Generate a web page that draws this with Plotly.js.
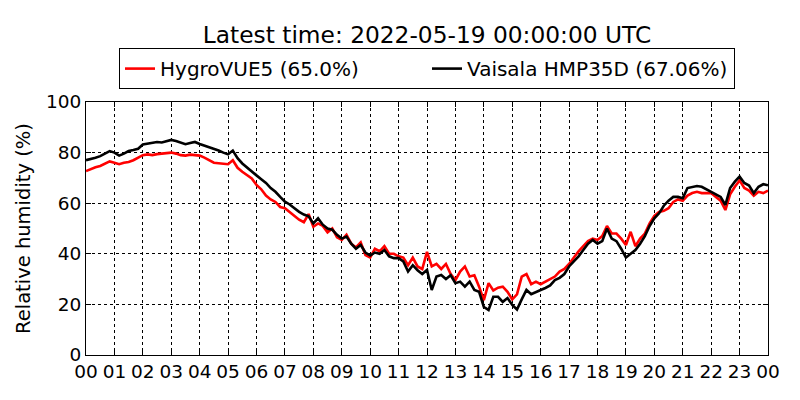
<!DOCTYPE html>
<html>
<head>
<meta charset="utf-8">
<script src="https://cdn.plot.ly/plotly-3.0.1.min.js"></script>
<style>
  html, body { margin: 0; padding: 0; background: #fff; }
  #chart { width: 800px; height: 400px; }
</style>
</head>
<body>
<div id="chart"></div>
<script>
/* =========================
   Data (10-minute samples, 2022-05-18 00:00 .. 2022-05-19 00:00 UTC)
========================= */
const DAY = "2022-05-18";
const END = "2022-05-19 00:00";
const STEP_MIN = 10;

// HygroVUE5 relative humidity (%)
const hygroVUE5 = [
  72.7, 73.5, 74.2, 74.7, 75.5, 76.5,
  76.0, 75.4, 76.0, 76.3, 77.0, 78.0,
  79.0, 79.3, 79.0, 79.4, 79.6, 79.8,
  80.0, 79.6, 79.0, 78.8, 79.2, 79.0,
  78.8, 78.0, 77.0, 76.0, 75.8, 75.6,
  75.4, 77.0, 74.0, 72.4, 71.0, 69.8,
  67.2, 65.5, 63.0, 61.5, 60.5, 58.5,
  58.0, 56.5, 55.0, 53.5, 52.5, 55.7,
  50.7, 52.0, 51.0, 48.5, 50.0, 46.5,
  45.5, 47.5, 44.0, 42.5, 44.5, 39.5,
  38.5, 42.0, 41.0, 43.0, 40.0, 40.0,
  39.0, 38.5, 35.5, 38.5, 35.0, 34.0,
  40.8, 35.0, 36.0, 34.0, 36.0, 32.0,
  29.6, 33.0, 35.0, 31.0, 31.5, 27.0,
  21.7, 28.4, 25.5, 26.6, 27.0, 25.0,
  22.0, 24.0, 31.0, 32.0, 28.0, 29.0,
  28.0, 29.0, 30.0, 31.0, 33.0, 34.0,
  36.0, 38.5, 41.0, 43.0, 45.0, 46.0,
  45.5, 47.0, 51.0, 48.0, 48.0, 46.0,
  43.5, 48.7, 43.0, 46.0, 48.0, 52.0,
  55.0, 56.5, 57.0, 58.0, 60.5, 61.5,
  61.0, 63.0, 64.0, 64.5, 64.0, 64.0,
  64.0, 62.5, 61.0, 57.3, 63.5, 66.5,
  69.0, 66.0, 65.0, 63.0, 64.5, 64.0,
  65.0
];

// Vaisala HMP35D relative humidity (%)
const hmp35d = [
  77.0, 77.4, 78.0, 78.6, 79.5, 80.6,
  80.0, 78.8, 79.6, 80.6, 81.0, 81.5,
  83.2, 83.6, 84.0, 84.2, 84.0, 84.6,
  85.0, 84.6, 84.0, 83.3, 83.8, 84.2,
  83.4, 82.8, 82.0, 81.4, 80.8, 80.0,
  79.3, 80.8, 77.8, 75.7, 74.0, 72.4,
  71.0, 69.5, 68.0, 66.0, 64.5, 62.5,
  60.6, 59.5, 58.0, 56.6, 55.5, 54.8,
  52.0, 54.0, 51.5, 50.0, 49.5, 47.5,
  46.0, 46.8, 44.0, 42.0, 43.5, 40.5,
  39.3, 40.5, 40.0, 41.5, 39.0, 38.3,
  38.3, 37.0, 33.0, 35.5, 33.5, 32.0,
  33.6, 25.7, 31.0, 31.6, 30.0, 31.5,
  28.4, 29.0, 27.0, 29.0, 25.7, 25.0,
  19.0, 17.8, 23.0, 23.0, 21.0, 22.5,
  19.8, 18.0, 22.0, 25.7, 24.0, 25.0,
  25.7, 26.5, 27.5, 29.6, 30.5, 32.0,
  35.0, 37.0, 39.0, 41.5, 44.0, 45.5,
  44.0, 45.0, 50.0, 46.0, 45.0, 42.0,
  38.5, 40.0, 41.5, 44.0, 47.0, 51.0,
  54.0, 56.0, 59.0, 61.0, 62.5, 62.5,
  62.0, 66.0, 66.5, 66.8, 66.5, 65.5,
  64.5, 63.5, 62.5, 59.3, 66.0, 68.5,
  70.5, 68.0, 67.0, 64.0, 66.5, 67.5,
  67.06
];

const SERIES = [
  { name: "HygroVUE5 (65.0%)", y: hygroVUE5, color: "#ff0000" },
  { name: "Vaisala HMP35D (67.06%)", y: hmp35d, color: "#000000" }
];

const yTicks = [0, 20, 40, 60, 80, 100];

function timeAxis(n) {
  const out = [];
  for (let i = 0; i < n; i++) {
    const m = i * STEP_MIN;
    if (m >= 1440) { out.push(END); continue; }
    const hh = String(Math.floor(m / 60)).padStart(2, "0");
    const mm = String(m % 60).padStart(2, "0");
    out.push(DAY + " " + hh + ":" + mm);
  }
  return out;
}

/* =========================
   Plot
========================= */
const FONT = "DejaVu Sans, Verdana, sans-serif";
const times = timeAxis(hmp35d.length);

const traces = SERIES.map(s => ({
  x: times,
  y: s.y,
  name: s.name,
  type: "scatter",
  mode: "lines",
  line: { color: s.color, width: 2.6 }
}));

const axisCommon = {
  showline: true,
  linecolor: "#000",
  linewidth: 1,
  mirror: "ticks",
  ticks: "inside",
  ticklen: 5,
  tickcolor: "#000",
  showgrid: true,
  gridcolor: "#000",
  gridwidth: 1,
  griddash: "dot",
  zeroline: false,
  tickfont: { family: FONT, size: 18.5, color: "#000" }
};

const layout = {
  width: 800,
  height: 400,
  margin: { l: 86, r: 32, t: 102, b: 45 },
  paper_bgcolor: "#fff",
  plot_bgcolor: "#fff",
  font: { family: FONT, size: 18.5, color: "#000" },
  title: {
    text: "Latest time: 2022-05-19 00:00:00 UTC",
    font: { family: FONT, size: 23.3, color: "#000" },
    xref: "paper", x: 0.5, xanchor: "center",
    yref: "container", y: 0.913, yanchor: "middle"
  },
  xaxis: Object.assign({}, axisCommon, {
    type: "date",
    range: [DAY + " 00:00", END],
    tick0: DAY + " 00:00",
    dtick: 3600000,
    tickformat: "%H"
  }),
  yaxis: Object.assign({}, axisCommon, {
    range: [0, 100],
    tickvals: yTicks,
    title: { text: "Relative humidity (%)", font: { family: FONT, size: 19.5, color: "#000" }, standoff: 10 }
  }),
  showlegend: true,
  legend: {
    orientation: "h",
    x: 0.5, xanchor: "center",
    y: 1.051, yanchor: "bottom",
    entrywidth: 262,
    bordercolor: "#000",
    borderwidth: 1,
    bgcolor: "#fff",
    font: { family: FONT, size: 20, color: "#000" }
  }
};

Plotly.newPlot("chart", traces, layout, { displayModeBar: false, staticPlot: true });
</script>
</body>
</html>
